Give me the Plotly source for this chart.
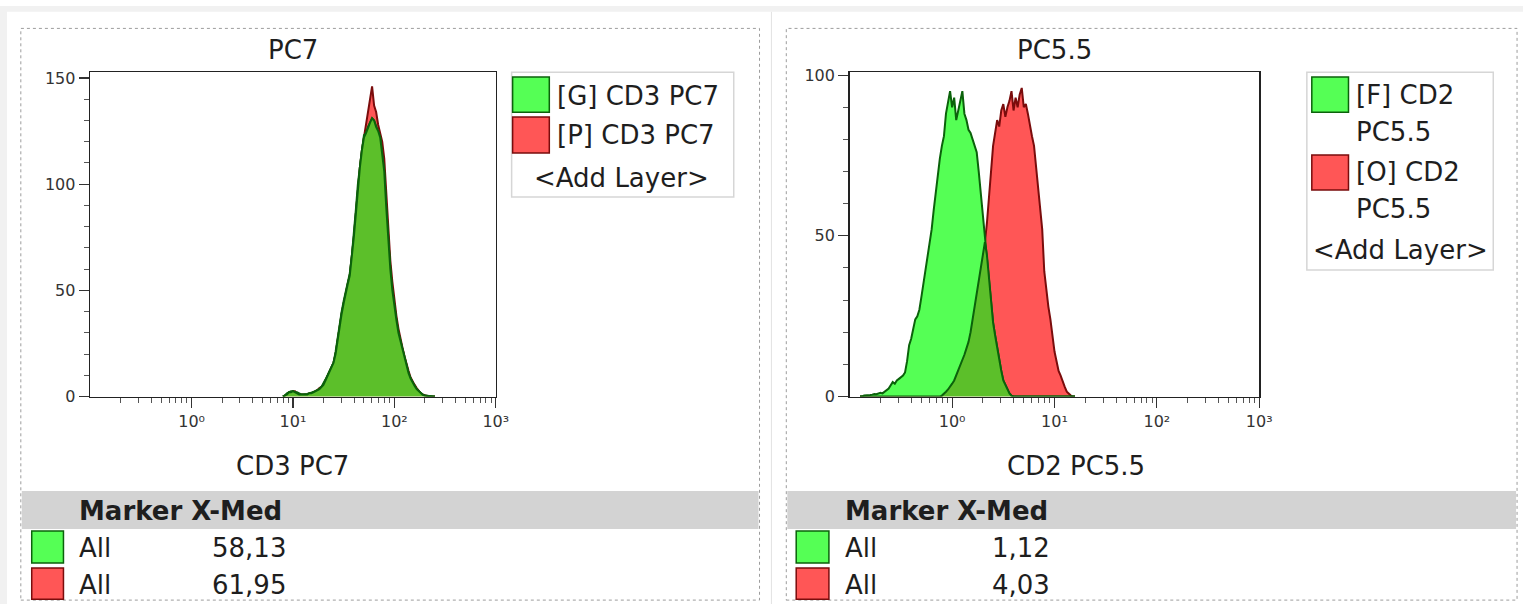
import plotly.graph_objects as go

W, H = 1536, 614

# ---------------- Panel 1 : CD3 PC7 ----------------
P1_TITLE = "PC7"
P1_XLABEL = "CD3 PC7"
P1_LOGX = [0.90, 0.92, 0.94, 0.96, 0.98, 1.00, 1.02, 1.04, 1.06, 1.08,
           1.10, 1.12, 1.14, 1.16, 1.18, 1.20, 1.22, 1.24, 1.26, 1.28,
           1.30, 1.32, 1.34, 1.36, 1.38, 1.40, 1.42, 1.44, 1.46, 1.48,
           1.50, 1.52, 1.54, 1.56, 1.58, 1.60, 1.62, 1.64, 1.66, 1.68,
           1.70, 1.72, 1.74, 1.76, 1.78, 1.80, 1.82, 1.84, 1.86, 1.88,
           1.90, 1.92, 1.94, 1.96, 1.98, 2.00, 2.02, 2.04, 2.06, 2.08,
           2.10, 2.12, 2.14, 2.16, 2.18, 2.20, 2.22, 2.24, 2.26, 2.28,
           2.30, 2.32, 2.34, 2.36, 2.38, 2.40]
P1_GREEN = [0, 0.5, 1.5, 2, 2.5, 2.5, 2, 2, 1.5, 1,
            1, 1, 1.2, 1.5, 1.8, 2, 2.5, 3, 3.5, 4.5,
            6, 8, 10, 12, 14, 16, 21, 28, 34, 40,
            45, 49, 53, 58, 66, 76, 88, 100, 109, 116,
            123, 124, 127, 129, 131, 130, 127, 125, 122, 114,
            106, 89, 74, 60, 50, 42, 36, 30, 26, 22,
            18, 14, 11, 8.5, 6.5, 5, 3.5, 2.5, 1.5, 0.8,
            0.5, 0.3, 0.2, 0.1, 0, 0]
P1_RED = [0, 0.5, 1, 2, 2, 2.5, 2.5, 1.5, 1, 1,
          1, 1, 1, 1.5, 1.5, 2, 2.5, 3, 4, 4.5,
          5.5, 7.5, 9.5, 12, 14, 16, 20, 27, 33, 39,
          44, 49, 53, 57, 65, 75, 86, 98, 108, 116,
          122, 126, 133, 138, 146, 137, 134, 128, 124, 120,
          112, 96, 80, 64, 54, 45, 38, 32, 27, 23,
          19, 15, 12, 9, 7, 5.5, 4, 2.5, 1.5, 1,
          0.5, 0.3, 0.2, 0.1, 0, 0]
P1_YTICKS = [0, 50, 100, 150]
P1_YMAX = 152.7
P1_LEGEND = ["[G] CD3 PC7", "[P] CD3 PC7"]
P1_MARKERS = ["All", "All"]
P1_XMED = ["58,13", "61,95"]

# ---------------- Panel 2 : CD2 PC5.5 ----------------
P2_TITLE = "PC5.5"
P2_XLABEL = "CD2 PC5.5"
P2_LOGX = [-0.90, -0.88, -0.86, -0.84, -0.82, -0.80, -0.78, -0.76, -0.74, -0.72,
           -0.70, -0.68, -0.66, -0.64, -0.62, -0.60, -0.58, -0.56, -0.54, -0.52,
           -0.50, -0.48, -0.46, -0.44, -0.42, -0.40, -0.38, -0.36, -0.34, -0.32,
           -0.30, -0.28, -0.26, -0.24, -0.22, -0.20, -0.18, -0.16, -0.14, -0.12,
           -0.10, -0.08, -0.06, -0.04, -0.02, 0.00, 0.02, 0.04, 0.06, 0.08,
           0.10, 0.12, 0.14, 0.16, 0.18, 0.20, 0.22, 0.24, 0.26, 0.28,
           0.30, 0.32, 0.34, 0.36, 0.38, 0.40, 0.42, 0.44, 0.46, 0.48,
           0.50, 0.52, 0.54, 0.56, 0.58, 0.60, 0.62, 0.64, 0.66, 0.68,
           0.70, 0.72, 0.74, 0.76, 0.78, 0.80, 0.82, 0.84, 0.86, 0.88,
           0.90, 0.92, 0.94, 0.96, 0.98, 1.00, 1.02, 1.04, 1.06, 1.08,
           1.10, 1.12, 1.14, 1.16, 1.18, 1.20]
P2_GREEN = [0, 0, 0.3, 0.3, 0.5, 0.5, 0.6, 0.8, 0.7, 1.0,
            1.2, 1.0, 1.5, 1.8, 2.5, 3.5, 4.5, 4.0, 5.0, 5.5,
            6.0, 6.5, 7.5, 11, 16, 18, 21, 24, 25, 27,
            31, 35, 39, 44, 48, 52, 58, 64, 69, 74,
            78, 81, 88, 92, 95, 90, 93, 86, 89, 92,
            95, 88, 86, 83, 82, 80, 78, 76, 70, 63,
            57, 51, 44, 37, 29, 23, 19, 15, 11, 8,
            5, 3.5, 2, 1, 0.3, 0, 0, 0, 0, 0,
            0, 0, 0, 0, 0, 0, 0, 0, 0, 0,
            0, 0, 0, 0, 0, 0, 0, 0, 0, 0,
            0, 0, 0, 0, 0, 0]
P2_RED = [0, 0, 0, 0, 0, 0, 0, 0, 0, 0,
          0, 0, 0, 0, 0, 0, 0, 0, 0, 0,
          0, 0, 0, 0, 0, 0, 0, 0, 0, 0,
          0, 0, 0, 0, 0, 0, 0, 0, 0, 0,
          0.3, 0.8, 1.5, 2.2, 3, 4, 5, 6.5, 8, 9.5,
          11, 13, 15, 17, 20, 24, 27, 31, 35, 39,
          43, 48, 54, 63, 72, 78, 82, 86, 84, 89,
          91, 87, 90, 92, 95, 89, 93, 90, 94, 96,
          90, 91, 88, 84, 81, 78, 72, 65, 59, 52,
          39, 33, 28, 24, 18, 14, 11, 8, 6.5, 4.5,
          3, 1.5, 0.8, 0.3, 0, 0]
P2_YTICKS = [0, 50, 100]
P2_YMAX = 100.9
P2_LEGEND = [["[F] CD2", "PC5.5"], ["[O] CD2", "PC5.5"]]
P2_MARKERS = ["All", "All"]
P2_XMED = ["1,12", "4,03"]

X_DECADES = [-1, 0, 1, 2, 3]
X_TICKTEXT = ["10\u2070", "10\u00b9", "10\u00b2", "10\u00b3"]
TABLE_HEADER = "Marker X-Med"
ADD_LAYER = "<Add Layer>"

# ---------------- styles ----------------
GREEN_FILL, GREEN_LINE = "#55ff55", "#0b620b"
RED_FILL, RED_LINE = "#ff5656", "#7a0c0c"
OVER_FILL = "#5cbf2a"
TXT = "#1e1e1e"
FONT = "DejaVu Sans"
TICKFONT = dict(family="DejaVu Sans", size=16, color="#333333")


def px(x):
    return x / W


def py(y):
    return 1 - y / H


fig = go.Figure()


def add_hist(logx, green, red, xa, ya):
    xs = [10 ** v for v in logx]
    over = [min(g, r) for g, r in zip(green, red)]
    fig.add_trace(go.Scatter(x=xs, y=red, xaxis=xa, yaxis=ya, mode="lines",
                             fill="tozeroy", fillcolor=RED_FILL,
                             line=dict(color=RED_LINE, width=2)))
    fig.add_trace(go.Scatter(x=xs, y=green, xaxis=xa, yaxis=ya, mode="lines",
                             fill="tozeroy", fillcolor=GREEN_FILL,
                             line=dict(color=GREEN_LINE, width=2)))
    fig.add_trace(go.Scatter(x=xs, y=over, xaxis=xa, yaxis=ya, mode="lines",
                             fill="tozeroy", fillcolor=OVER_FILL,
                             line=dict(color=GREEN_LINE, width=2)))


add_hist(P1_LOGX, P1_GREEN, P1_RED, "x", "y")
add_hist(P2_LOGX, P2_GREEN, P2_RED, "x2", "y2")

minor_vals = [m * 10 ** e for e in X_DECADES[:-1] for m in range(2, 10)]
dec_vals = [10 ** e for e in X_DECADES[1:]]


def xaxis(domain, anchor):
    return dict(domain=domain, anchor=anchor, type="log",
                range=[X_DECADES[0], X_DECADES[-1]],
                tickmode="array", tickvals=dec_vals, ticktext=X_TICKTEXT,
                ticks="outside", ticklen=10, tickwidth=1.2, tickcolor="#333",
                minor=dict(tickmode="array", tickvals=minor_vals,
                           ticks="outside", ticklen=5, tickwidth=1, tickcolor="#555"),
                showline=True, linecolor="#222", linewidth=1.6, mirror=True,
                showgrid=False, zeroline=False, tickfont=TICKFONT, fixedrange=True)


def yaxis(domain, anchor, ymax, ticks):
    return dict(domain=domain, anchor=anchor, range=[0, ymax],
                tickmode="array", tickvals=ticks,
                ticks="outside", ticklen=10, tickwidth=1.2, tickcolor="#333",
                minor=dict(dtick=10, tick0=0, ticks="outside", ticklen=5,
                           tickwidth=1, tickcolor="#555"),
                showline=True, linecolor="#222", linewidth=1.6, mirror=True,
                showgrid=False, zeroline=False, tickfont=TICKFONT, fixedrange=True)


ydom = [py(401), py(68)]
fig.update_layout(
    width=W, height=H, margin=dict(l=0, r=0, t=0, b=0),
    paper_bgcolor="white", plot_bgcolor="white", showlegend=False,
    hovermode=False,
    xaxis=xaxis([px(91), px(500)], "y"),
    yaxis=yaxis(ydom, "x", P1_YMAX, P1_YTICKS),
    xaxis2=xaxis([px(857), px(1270)], "y2"),
    yaxis2=yaxis(ydom, "x2", P2_YMAX, P2_YTICKS),
)

shapes = []
annots = []


def rect(x0, y0, x1, y1, fill=None, line=None, lw=1, dash=None, layer="below"):
    d = dict(type="rect", xref="paper", yref="paper",
             x0=px(x0), x1=px(x1), y0=py(y1), y1=py(y0), layer=layer,
             line=dict(width=lw if line else 0, color=line or "rgba(0,0,0,0)"))
    if dash:
        d["line"]["dash"] = dash
    if fill:
        d["fillcolor"] = fill
    shapes.append(d)


def text(s, x, y, anchor="left", size=26, bold=False, color=TXT):
    annots.append(dict(xref="paper", yref="paper", x=px(x), y=py(y),
                       text=("<b>%s</b>" % s) if bold else s, showarrow=False,
                       xanchor=anchor, yanchor="middle",
                       font=dict(family=FONT, size=size, color=color)))


# page background strips
rect(0, 0, W, 6, fill="#f1f1f1")
rect(0, 0, 7, H, fill="#f1f1f1")
shapes.append(dict(type="line", xref="paper", yref="paper", x0=px(778), x1=px(778),
                   y0=py(6), y1=py(H), line=dict(color="#e2e2e2", width=1), layer="below"))

panels = [
    dict(x0=21, x1=766, title=P1_TITLE, tcx=295, xlabel=P1_XLABEL, xlcx=295,
         legend_box=(516, 68, 740, 196), legend=[[t] for t in P1_LEGEND],
         sq=[(517, 73, 554, 109), (517, 114, 554, 151)], ltx=560,
         lty=[[92], [132]], addy=177, addx=627,
         tsq_x=(32, 64), text_x=78, val_x=290,
         markers=P1_MARKERS, vals=P1_XMED),
    dict(x0=793, x1=1530, title=P2_TITLE, tcx=1063, xlabel=P2_XLABEL, xlcx=1085,
         legend_box=(1318, 68, 1506, 271), legend=P2_LEGEND,
         sq=[(1323, 73, 1360, 109), (1323, 153, 1360, 189)], ltx=1366,
         lty=[[91, 129], [170, 208]], addy=251, addx=1412,
         tsq_x=(803, 836), text_x=850, val_x=1061,
         markers=P2_MARKERS, vals=P2_XMED),
]

for p in panels:
    # dotted panel border
    rect(p["x0"], 23, p["x1"], 610, line="#9c9c9c", lw=1, dash="dot")
    # table header band
    rect(p["x0"] + 1, 498, p["x1"] - 1, 537, fill="#d3d3d3")
    text(p["title"], p["tcx"], 45, anchor="center")
    text(p["xlabel"], p["xlcx"], 472, anchor="center")
    # legend
    bx0, by0, bx1, by1 = p["legend_box"]
    rect(bx0, by0, bx1, by1, fill="white", line="#d6d6d6", lw=1.5)
    for i, (x0, y0, x1, y1) in enumerate(p["sq"]):
        fill, ln = (GREEN_FILL, GREEN_LINE) if i == 0 else (RED_FILL, RED_LINE)
        rect(x0, y0, x1, y1, fill=fill, line=ln, lw=1.5, layer="above")
        for s, yy in zip(p["legend"][i], p["lty"][i]):
            text(s, p["ltx"], yy)
    text(ADD_LAYER, p["addx"], p["addy"], anchor="center")
    # stats table
    text(TABLE_HEADER, p["text_x"], 518, bold=True)
    rows_y = [(539, 572), (577, 609)]
    for i, (m, v) in enumerate(zip(p["markers"], p["vals"])):
        fill, ln = (GREEN_FILL, GREEN_LINE) if i == 0 else (RED_FILL, RED_LINE)
        y0, y1 = rows_y[i]
        rect(p["tsq_x"][0], y0, p["tsq_x"][1], y1, fill=fill, line=ln, lw=1.5, layer="above")
        cy = (y0 + y1) / 2 + 1
        text(m, p["text_x"], cy)
        text(v, p["val_x"], cy, anchor="right")

fig.update_layout(shapes=shapes, annotations=annots)
fig.write_html("out.html", config={"displayModeBar": False, "staticPlot": True})
